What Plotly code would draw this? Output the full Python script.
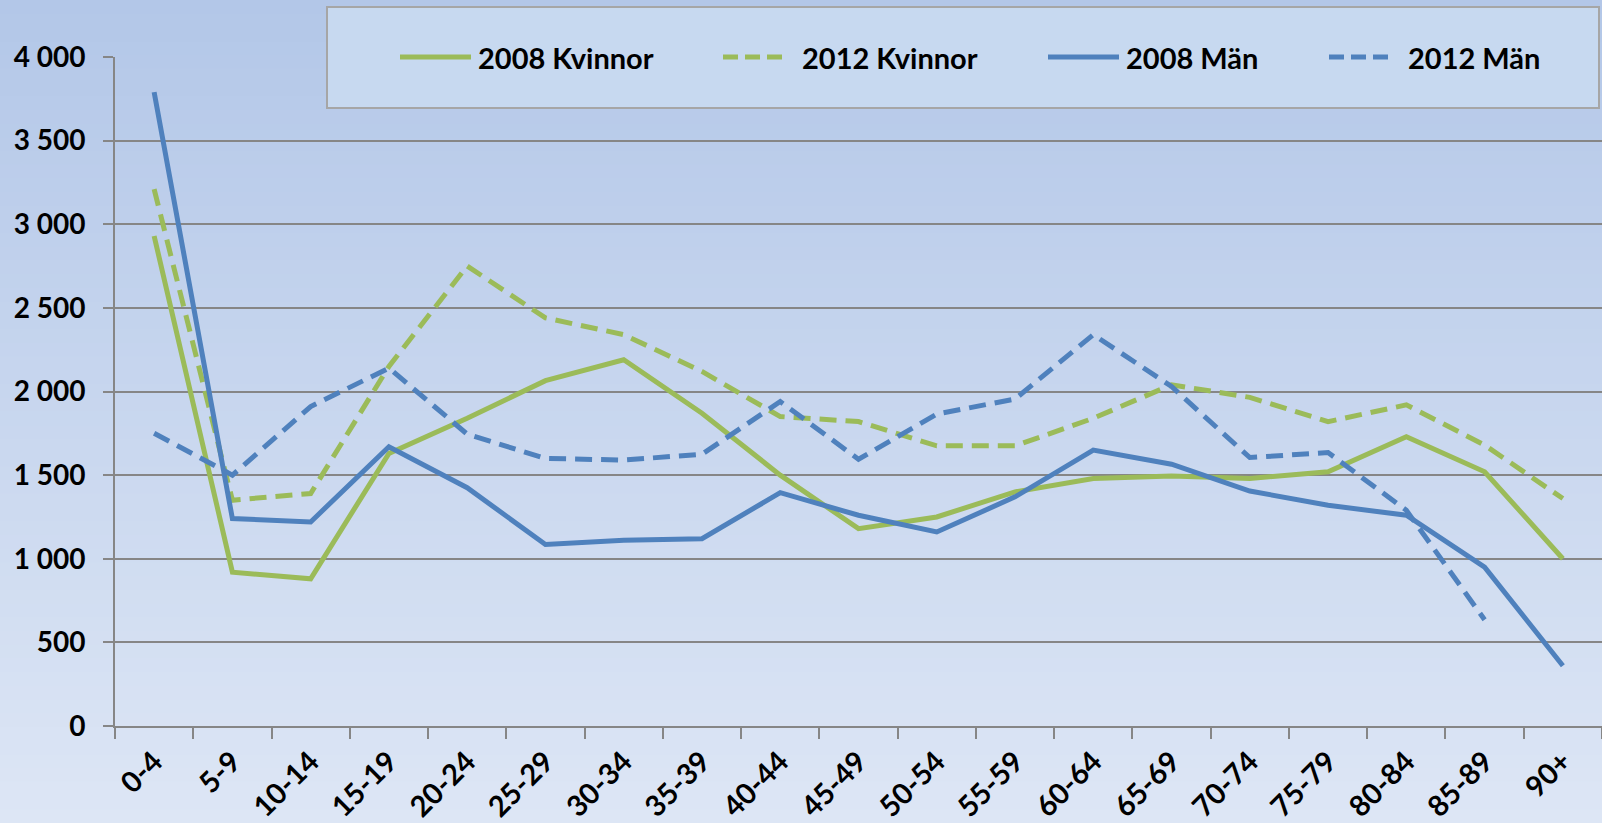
import plotly.graph_objects as go

# age groups on the x axis
age_groups = ["0-4", "5-9", "10-14", "15-19", "20-24", "25-29", "30-34", "35-39",
              "40-44", "45-49", "50-54", "55-59", "60-64", "65-69", "70-74",
              "75-79", "80-84", "85-89", "90+"]

kvinnor_2008 = [2930, 920, 880, 1630, 1840, 2065, 2190, 1870, 1500, 1180,
                1250, 1400, 1480, 1495, 1480, 1520, 1730, 1520, 1000]
kvinnor_2012 = [3210, 1350, 1390, 2150, 2750, 2440, 2340, 2120, 1850, 1820,
                1675, 1675, 1840, 2040, 1965, 1820, 1920, 1680, 1360]
man_2008 = [3790, 1240, 1220, 1670, 1425, 1085, 1110, 1120, 1395, 1260,
            1160, 1370, 1650, 1565, 1405, 1320, 1260, 950, 360]
man_2012 = [1750, 1500, 1910, 2140, 1745, 1600, 1590, 1625, 1940, 1595,
            1865, 1955, 2340, 2030, 1605, 1635, 1290, 635, None]

series_names = ["2008 Kvinnor", "2012 Kvinnor", "2008 Män", "2012 Män"]

GREEN = "#9bbb59"
BLUE = "#4f81bd"
GRID = "#868686"
DASH = "17px,9px"
FONT = "Lato"

W, H = 1602, 823
L, R, T, B = 115, 1602, 57, 726   # plot area in pixels


def px(x):
    return (x - L) / (R - L)


def py(y):
    return (B - y) / (B - T)


fig = go.Figure()

styles = [(kvinnor_2008, GREEN, "solid"), (kvinnor_2012, GREEN, DASH),
          (man_2008, BLUE, "solid"), (man_2012, BLUE, DASH)]
for name, (vals, col, dash) in zip(series_names, styles):
    fig.add_trace(go.Scatter(x=age_groups, y=vals, name=name, mode="lines",
                             line=dict(color=col, width=5, dash=dash),
                             showlegend=False))

shapes = []
# background gradient, darker blue at the top
n = 60
top = (0xb3, 0xc7, 0xe8)
bot = (0xdd, 0xe6, 0xf5)
for i in range(n):
    f = i / (n - 1)
    c = tuple(round(top[k] + (bot[k] - top[k]) * f) for k in range(3))
    y0 = i * H / n
    y1 = (i + 1) * H / n + 1
    shapes.append(dict(type="rect", xref="paper", yref="paper", layer="below",
                       x0=px(0), x1=px(W), y0=py(y1), y1=py(y0),
                       line=dict(width=0), fillcolor="rgb(%d,%d,%d)" % c))

# legend box
shapes.append(dict(type="rect", xref="paper", yref="paper", layer="above",
                   x0=px(327), x1=px(1599), y0=py(108), y1=py(7),
                   line=dict(color="#a6a6a6", width=2), fillcolor="#c7d9f0"))

annotations = []
legend_pos = [(400, 471, 476), (723, 786, 800), (1048, 1119, 1124), (1329, 1391, 1406)]
for name, (vals, col, dash), (sx0, sx1, tx) in zip(series_names, styles, legend_pos):
    shapes.append(dict(type="line", xref="paper", yref="paper", layer="above",
                       x0=px(sx0), x1=px(sx1), y0=py(57), y1=py(57),
                       line=dict(color=col, width=5,
                                 dash="solid" if dash == "solid" else "15px,7px")))
    annotations.append(dict(text=name, xref="paper", yref="paper", x=px(tx), y=py(57),
                            xanchor="left", yanchor="middle", showarrow=False,
                            font=dict(family=FONT, size=29, color="black", weight="bold")))

fig.update_layout(
    width=W, height=H,
    margin=dict(l=L, r=W - R, t=T, b=H - B),
    paper_bgcolor="#dde6f5",
    plot_bgcolor="rgba(0,0,0,0)",
    separators=", ",
    shapes=shapes,
    annotations=annotations,
    showlegend=False,
)

fig.update_xaxes(type="category", range=[-0.5, 18.5], tickson="boundaries",
                 ticks="outside", ticklen=11, tickwidth=2, tickcolor=GRID,
                 showline=True, linecolor=GRID, linewidth=2, showgrid=False,
                 tickangle=-45, ticklabelstandoff=5,
                 tickfont=dict(family=FONT, size=29, color="black", weight="bold"))

fig.update_yaxes(range=[0, 4000], dtick=500, tickformat=",d",
                 showgrid=True, gridcolor=GRID, gridwidth=2,
                 showline=True, linecolor=GRID, linewidth=2, zeroline=False,
                 ticks="outside", ticklen=10, tickwidth=2, tickcolor=GRID,
                 ticklabelstandoff=12,
                 tickfont=dict(family=FONT, size=28, color="black", weight="bold"))

# the page has a default body margin; drop it so the figure fills the window
fig.write_html("out.html", config={"displayModeBar": False},
               post_script="document.body.style.margin='0';")
